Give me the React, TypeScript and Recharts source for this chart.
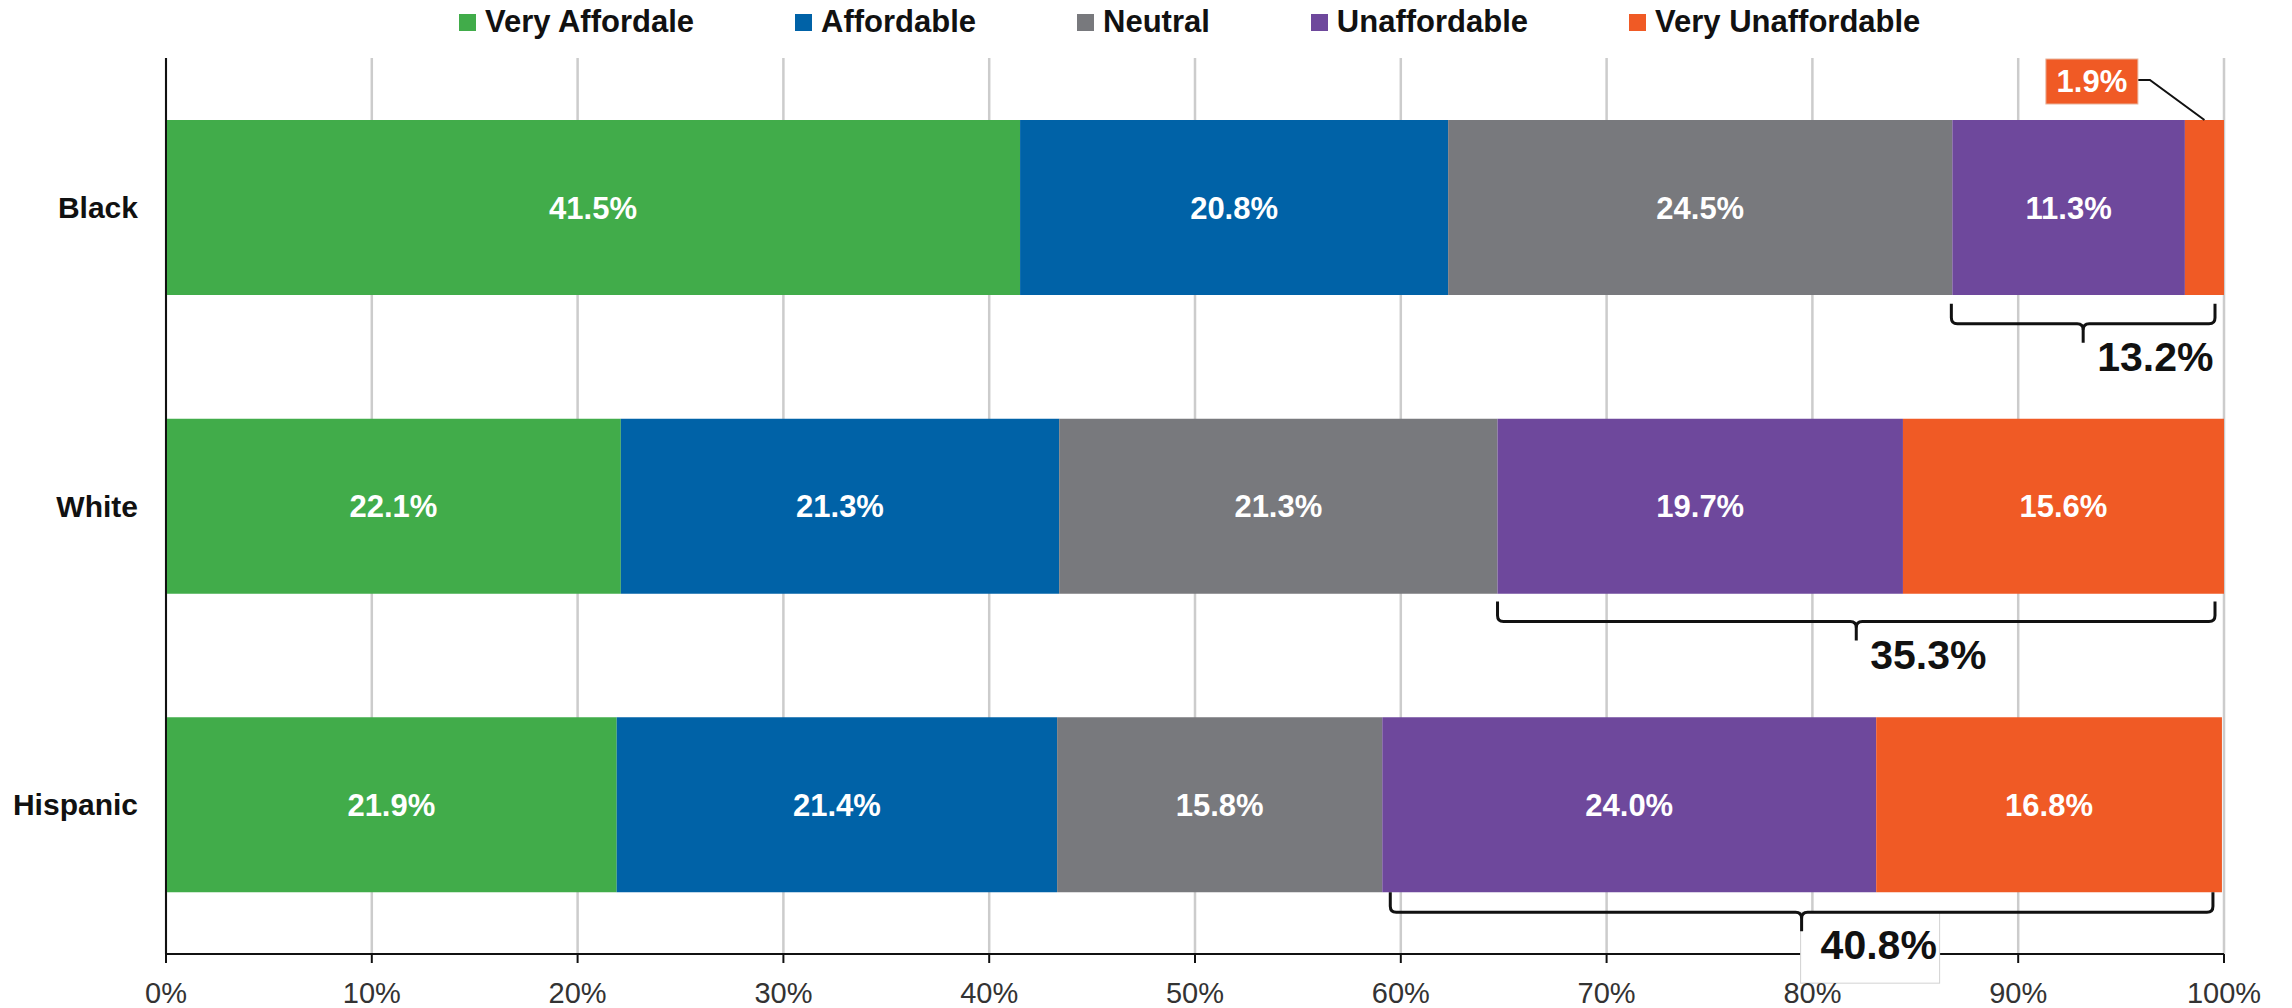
import React from "react";
import {
  BarChart,
  Bar,
  XAxis,
  YAxis,
  CartesianGrid,
  Legend,
  LabelList,
  ReferenceArea,
} from "recharts";

// ---------- data ----------
const races = ["Black", "White", "Hispanic"];
const veryAffordable = [41.5, 22.1, 21.9];
const affordable = [20.8, 21.3, 21.4];
const neutral = [24.5, 21.3, 15.8];
const unaffordable = [11.3, 19.7, 24.0];
const veryUnaffordable = [1.9, 15.6, 16.8];
const seriesNames = ["Very Affordale", "Affordable", "Neutral", "Unaffordable", "Very Unaffordable"];
const seriesKeys = ["va", "a", "n", "u", "vu"];
const xTicks = [0, 10, 20, 30, 40, 50, 60, 70, 80, 90, 100];

// ---------- style ----------
const seriesColors = ["#41AC4A", "#0062A7", "#78797D", "#6E489C", "#F05A25"];
const FONT = "'Liberation Sans', Arial, sans-serif";
const BAR_SIZE = 175;
const bracketDrop = [9, 8, 0];
const bracketInsetLeft = [-1, 0, 8];
const bracketBoxed = [false, false, true];

const seriesValues = [veryAffordable, affordable, neutral, unaffordable, veryUnaffordable];
const data = races.map((race, i) => {
  const row: Record<string, any> = { race };
  seriesKeys.forEach((k, j) => (row[k] = seriesValues[j][i]));
  return row;
});
const unaffStart = races.map((_, i) => veryAffordable[i] + affordable[i] + neutral[i]);
const totals = races.map((_, i) => unaffStart[i] + unaffordable[i] + veryUnaffordable[i]);
const bracketLabels = races.map((_, i) => `${(unaffordable[i] + veryUnaffordable[i]).toFixed(1)}%`);

const makeLabel = (seriesIndex: number) => (props: any) => {
  const x = Number(props.x);
  const y = Number(props.y);
  const width = Number(props.width);
  const height = Number(props.height);
  const v = Number(props.value);
  if (!isFinite(v)) return null;
  const text = `${v.toFixed(1)}%`;
  if (width < 60) {
    const bw = 92;
    const bh = 45;
    const bx = x - 47 - bw;
    const by = y - 61;
    return (
      <g>
        <path
          d={`M${bx + bw},${by + 21} L${bx + bw + 12},${by + 21} L${x + width / 2},${y}`}
          stroke="#111"
          strokeWidth={2}
          fill="none"
        />
        <rect x={bx} y={by} width={bw} height={bh} fill={seriesColors[seriesIndex]} stroke="#e8b49c" strokeWidth={1} />
        <text
          x={bx + bw / 2}
          y={by + 33}
          fill="#fff"
          fontSize={31}
          fontWeight={700}
          fontFamily={FONT}
          textAnchor="middle"
        >
          {text}
        </text>
      </g>
    );
  }
  return (
    <text
      x={x + width / 2}
      y={y + height / 2 + 11}
      fill="#fff"
      fontSize={31}
      fontWeight={700}
      fontFamily={FONT}
      textAnchor="middle"
    >
      {text}
    </text>
  );
};

const Bracket = (props: any) => {
  const { x, y, width, height, label, drop, inset, boxed } = props;
  const barBottom = Number(y) + Number(height) / 2 + BAR_SIZE / 2;
  const xl = Number(x) + inset;
  const xr = Number(x) + Number(width) - 9;
  const xm = (xl + xr) / 2;
  const top = barBottom + drop;
  const h = top + 20;
  const tip = h + 19;
  const r = 6;
  const left = `M${xl},${top} V${h - r} Q${xl},${h} ${xl + r},${h} H${xm - r} Q${xm},${h} ${xm},${h + r} V${tip}`;
  const right = `M${xr},${top} V${h - r} Q${xr},${h} ${xr - r},${h} H${xm + r} Q${xm},${h} ${xm},${h + r}`;
  return (
    <g>
      {boxed && <rect x={xm - 1} y={h} width={139} height={71} fill="#fff" stroke="#d2d2d2" strokeWidth={1} />}
      <path d={left} stroke="#111" strokeWidth={3} fill="none" />
      <path d={right} stroke="#111" strokeWidth={3} fill="none" />
      <text
        x={xm + (boxed ? 19 : 14)}
        y={tip + 28}
        fill="#111"
        fontSize={41}
        fontWeight={700}
        fontFamily={FONT}
        textAnchor="start"
      >
        {label}
      </text>
    </g>
  );
};

const renderLegend = () => (
  <div
    style={{
      display: "flex",
      alignItems: "center",
      height: 44,
      paddingLeft: 459,
      fontFamily: FONT,
      fontWeight: 700,
      fontSize: 31,
      color: "#111",
      whiteSpace: "nowrap",
    }}
  >
    {seriesNames.map((n, i) => (
      <div key={n} style={{ display: "flex", alignItems: "center", marginRight: 101 }}>
        <span
          style={{ display: "inline-block", width: 17, height: 17, background: seriesColors[i], marginRight: 9 }}
        />
        <span>{n}</span>
      </div>
    ))}
  </div>
);

export default function App() {
  return (
    <div style={{ position: "absolute", left: 0, top: 0, width: 2292, height: 1008, background: "#fff" }}>
      <BarChart
        width={2292}
        height={1008}
        data={data}
        layout="vertical"
        margin={{ top: 58, right: 68, bottom: 0, left: 0 }}
        style={{ fontFamily: FONT }}
      >
        <CartesianGrid horizontal={false} vertical stroke="#cccccc" strokeWidth={2.5} />
        <XAxis
          type="number"
          domain={[0, 100]}
          ticks={xTicks}
          interval={0}
          allowDataOverflow
          tickFormatter={(v: number) => `${v}%`}
          height={54}
          tickSize={9}
          tickMargin={19}
          axisLine={{ stroke: "#111", strokeWidth: 2 }}
          tickLine={{ stroke: "#111", strokeWidth: 2 }}
          tick={{ fill: "#333", fontSize: 29, fontFamily: FONT }}
        />
        <YAxis
          type="category"
          dataKey="race"
          width={166}
          tickLine={false}
          tickSize={0}
          tickMargin={28}
          axisLine={{ stroke: "#111", strokeWidth: 2 }}
          tick={{ fill: "#111", fontSize: 30, fontWeight: 700, fontFamily: FONT }}
        />
        <Legend
          verticalAlign="middle"
          align="center"
          layout="horizontal"
          wrapperStyle={{ top: 0, left: 0, width: 2292, margin: 0, padding: 0 }}
          content={renderLegend}
        />
        {seriesKeys.map((k, j) => (
          <Bar
            key={k}
            dataKey={k}
            name={seriesNames[j]}
            stackId="s"
            fill={seriesColors[j]}
            barSize={BAR_SIZE}
            isAnimationActive={false}
          >
            <LabelList dataKey={k} content={makeLabel(j)} />
          </Bar>
        ))}
        {races.map((race, i) => (
          <ReferenceArea
            key={race}
            x1={unaffStart[i]}
            x2={totals[i]}
            y1={race}
            y2={race}
            ifOverflow="visible"
            zIndex={600}
            shape={(p: any) => (
              <Bracket
                {...p}
                label={bracketLabels[i]}
                drop={bracketDrop[i]}
                inset={bracketInsetLeft[i]}
                boxed={bracketBoxed[i]}
              />
            )}
          />
        ))}
      </BarChart>
    </div>
  );
}
